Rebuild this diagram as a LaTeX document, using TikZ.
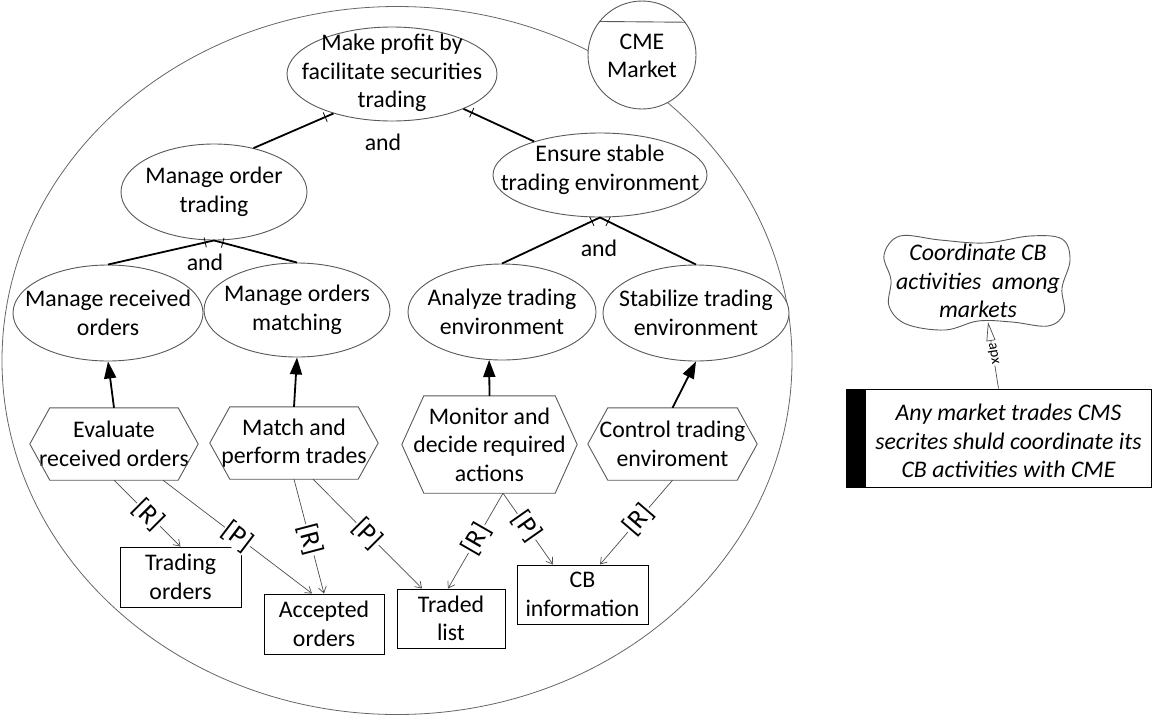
\documentclass[tikz,border=0pt]{standalone}
\usepackage{fontspec}
\setmainfont{Carlito}
\usetikzlibrary{shapes.geometric,arrows.meta,decorations.markings,calc}
\begin{document}
\begin{tikzpicture}[x=1pt,y=-1pt,
  font=\fontsize{23.8}{28.5}\selectfont,
  goal/.style={ellipse,draw=black!65,line width=0.9pt,inner sep=0pt,fill=white},
  gtext/.style={align=center,inner sep=0pt},
  res/.style={rectangle,draw=black,line width=1pt,inner sep=0pt,align=center,fill=white},
  task/.style={inner sep=0pt,align=center},
  hexline/.style={draw=black!65,line width=0.9pt},
  dec/.style={line width=1.8pt,postaction={decorate},
    decoration={markings,mark=at position -9pt with {\draw[line width=0.8pt] (0,-5pt)--(0,5pt);}}},
  means/.style={line width=1.8pt,-{Triangle[length=17pt,width=12pt]}},
  uses/.style={draw=black!70,line width=0.7pt,-{Straight Barb[length=6pt,width=8pt]}},
  lab/.style={sloped,fill=white,inner sep=0.5pt,midway,text=black,font=\fontsize{27}{30}\selectfont},
]
\useasboundingbox (0,0) rectangle (1153,715);

% actor boundary
\node[ellipse,draw=black!60,line width=0.8pt,minimum width=790,minimum height=708,inner sep=0pt] (bound) at (397,360.5) {};
% actor
\node[circle,draw=black!65,line width=0.9pt,fill=white,minimum size=108,inner sep=0pt] (cme) at (642,55) {};
\draw[black!65,line width=0.9pt] (cme.37.7) -- (cme.142.3);
\node[gtext] (cme-t) at (642,56) {CME\\Market};

% goals
\node[goal,minimum width=210,minimum height=94] (top) at (392,74) {};
\node[gtext] (top-t) at (392,73) {Make profit by\\facilitate securities\\trading};
\node[goal,minimum width=214,minimum height=84] (ens) at (600,175) {};
\node[gtext] (ens-t) at (600,170) {Ensure stable\\trading environment};
\node[goal,minimum width=186,minimum height=96] (mot) at (214,192) {};
\node[gtext] (mot-t) at (214,192) {Manage order\\trading};
\node[goal,minimum width=190,minimum height=96] (mro) at (108,313) {};
\node[gtext] (mro-t) at (108,313) {Manage received\\orders};
\node[goal,minimum width=186,minimum height=94] (mom) at (297,310) {};
\node[gtext] (mom-t) at (297,310) {Manage orders\\matching};
\node[goal,minimum width=188,minimum height=96] (ana) at (502,312) {};
\node[gtext] (ana-t) at (502,312) {Analyze trading\\environment};
\node[goal,minimum width=186,minimum height=96] (sta) at (696,313) {};
\node[gtext] (sta-t) at (696,313) {Stabilize trading\\environment};

% tasks
\node[task,minimum width=168,minimum height=72] (ev) at (114,444) {Evaluate\\received orders};
\node[task,minimum width=168,minimum height=72] (mt) at (294,443) {Match and\\perform trades};
\node[task,minimum width=175,minimum height=97] (mo) at (489.5,444.5) {Monitor and\\decide required\\actions};
\node[task,minimum width=169,minimum height=72] (ct) at (672.5,444) {Control trading\\enviroment};
\foreach \n/\c in {ev/20,mt/20,mo/22,ct/20}{
  \draw[hexline] (\n.west) -- ([xshift=\c pt]\n.north west) -- ([xshift=-\c pt]\n.north east)
    -- (\n.east) -- ([xshift=-\c pt]\n.south east) -- ([xshift=\c pt]\n.south west) -- cycle;
}

% resources
\node[res,minimum width=121,minimum height=60] (to) at (180.5,577) {Trading\\orders};
\node[res,minimum width=120,minimum height=60] (ao) at (324,624) {Accepted\\orders};
\node[res,minimum width=108,minimum height=59] (tl) at (451,618.5) {Traded\\list};
\node[res,minimum width=131,minimum height=59] (cb) at (582.5,594.5) {CB\\information};

% decompositions
\draw[dec] (mot.48.5) -- (top.214);
\draw[dec] (ens.153) -- (top.334);
\draw[dec] (mro.north) -- (mot.south);
\draw[dec] (mom.north) -- (mot.south);
\draw[dec] (ana.north) -- (ens.south);
\draw[dec] (sta.north) -- (ens.south);
\node (and1) at (383,142) {and};
\node (and2) at (205,262) {and};
\node (and3) at (599,248) {and};

% means-end
\draw[means] (ev.north) -- (mro.south);
\draw[means] (mt.north) -- (mom.south);
\draw[means] (mo.north) -- (ana.255);
\draw[means] (ct.north) -- (sta.south);

% resource links
\draw[uses] (ev.south) -- node[lab,pos=0.52]{[R]} (to.north);
\draw[uses] ([xshift=49pt]ev.south) -- node[lab]{[P]} ([xshift=-12pt]ao.north);
\draw[uses] (mt.south) -- node[lab,pos=0.53]{[R]} (ao.north);
\draw[uses] ([xshift=19pt]mt.south) -- node[lab]{[P]} ([xshift=-29pt]tl.north);
\draw[uses] ([xshift=13.5pt]mo.south) -- node[lab,pos=0.48]{[R]} ([xshift=-3pt]tl.north);
\draw[uses] ([xshift=13.5pt]mo.south) -- node[lab,pos=0.47]{[P]} ([xshift=-29.5pt]cb.north);
\draw[uses] (ct.south) -- node[lab,pos=0.47]{[R]} ([xshift=17.5pt]cb.north);

% right side: belief cloud and rule
\draw[draw=black!65,line width=0.9pt] plot[smooth cycle,tension=0.6] coordinates {
  (900,236) (940,240) (985,243) (1030,236) (1062,239) (1070,260) (1062,288) (1064,313)
  (1048,326) (1012,322) (978,321) (945,330) (906,324) (889,306) (891,280) (884,255)};
\node[gtext] (cloud) at (978,281) {\itshape Coordinate CB\\\itshape activities\ \ among\\\itshape markets};
\coordinate (cloudb) at (988,322);

\node[res,minimum width=305,minimum height=98] (rule) at (998.5,438) {};
\fill (rule.north west) rectangle ([xshift=20pt]rule.south west);
\node[gtext] (rule-t) at (1008.5,441) {\itshape Any market trades CMS\\\itshape secrites shuld coordinate its\\\itshape CB activities with CME};

\draw[draw=black!70,line width=0.7pt,-{Triangle[open,length=19pt,width=9pt]}] (rule.north) --
  node[sloped,fill=white,inner sep=1pt,pos=0.52,font=\fontsize{15}{17}\selectfont]{apx} (cloudb);
\end{tikzpicture}
\end{document}
